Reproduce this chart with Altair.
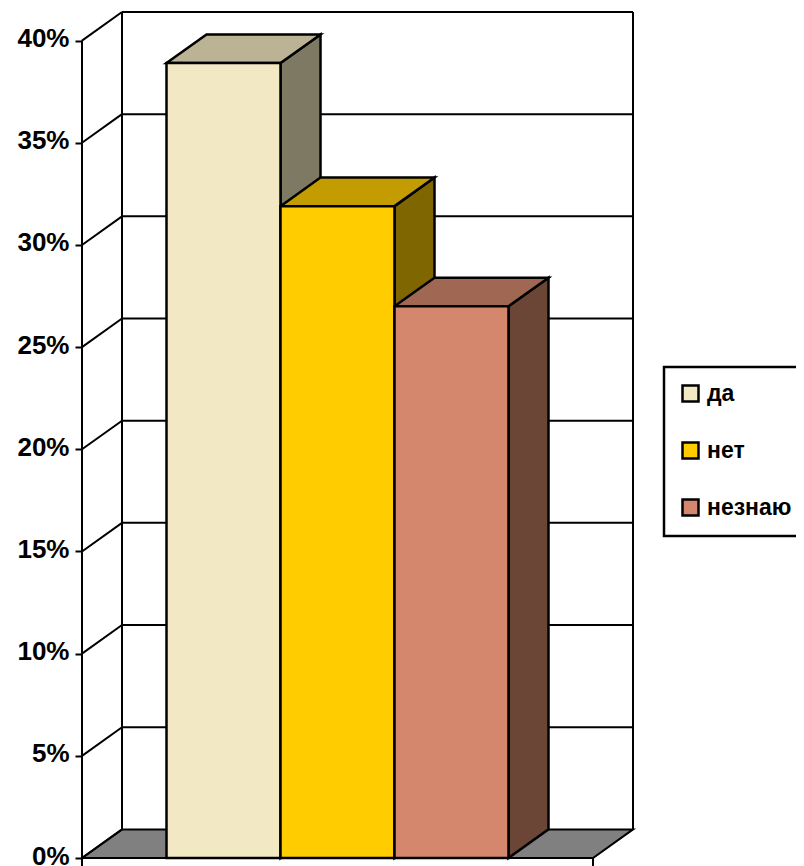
import altair as alt
import pandas as pd

# ---- data ----
categories = ["да", "нет", "незнаю"]
values = [38.9, 31.9, 27.0]           # percent
front_colors = ["#F2E9C4", "#FFCC00", "#D4876C"]
top_colors = ["#BCB394", "#C29C00", "#A06752"]
side_colors = ["#7E7963", "#806600", "#6B4637"]
tick_values = [0, 5, 10, 15, 20, 25, 30, 35, 40]

# ---- layout / style constants ----
W = 551          # plot width (x units == px)
H = 846          # plot height px
DX = 40          # 3D depth along x
DY = 1.4         # 3D depth along y (percent units)
Y_MAX = 40 + DY
FLOOR_W = W - DX
BAR_W = 114
START = (FLOOR_W - len(values) * BAR_W) / 2
FONT = "Liberation Sans"
LW = 2.5

x_scale = alt.Scale(domain=[0, W], nice=False, zero=False)
y_scale = alt.Scale(domain=[0, Y_MAX], nice=False, zero=False)
y_axis = alt.Axis(values=tick_values, labelExpr="datum.value + '%'", domain=False,
                  grid=False, ticks=True, tickSize=7, tickWidth=2, tickColor="black",
                  labelFont=FONT, labelFontSize=26, labelFontWeight="bold",
                  labelColor="black", labelPadding=6, labelOffset=-2, title=None)


def X(f):
    return alt.X(f, type="quantitative", scale=x_scale, axis=None, title=None)


def Y(f):
    return alt.Y(f, type="quantitative", scale=y_scale, axis=y_axis, title=None)


# ---- tables built from the arrays ----
front_rows, top_rows, side_rows = [], [], []
for i, (c, v) in enumerate(zip(categories, values)):
    x0 = START + i * BAR_W
    x1 = x0 + BAR_W
    front_rows.append({"cat": c, "x0": x0, "x1": x1, "lo": 0, "hi": v})
    for x, lo, hi in [(x0, v, v), (x0 + DX, v, v + DY), (x1, v, v + DY), (x1 + DX, v + DY, v + DY)]:
        top_rows.append({"cat": c, "x": x, "lo": lo, "hi": hi, "fill": top_colors[i]})
    for x, lo, hi in [(x1, 0, v), (x1 + DX, DY, v + DY)]:
        side_rows.append({"cat": c, "x": x, "lo": lo, "hi": hi, "fill": side_colors[i]})

fronts = pd.DataFrame(front_rows)
tops = pd.DataFrame(top_rows)
sides = pd.DataFrame(side_rows)

floor = pd.DataFrame({"x": [0, DX, FLOOR_W, W], "lo": [0, 0, 0, DY], "hi": [0, DY, DY, DY]})
grid = pd.DataFrame({"x": DX, "x2": W, "y": [t + DY for t in tick_values[1:]]})
walls = pd.DataFrame({"x": [DX, W], "y": DY, "y2": Y_MAX})
diag = pd.DataFrame({"x": 0, "x2": DX, "y": tick_values, "y2": [t + DY for t in tick_values]})
front_axis = pd.DataFrame({"x": [0], "y": [tick_values[-1]]})
cat_tick = pd.DataFrame({"x": [FLOOR_W], "y": [0]})

floor_l = alt.Chart(floor).mark_area(fill="#808080", stroke="black", strokeWidth=2).encode(
    x=X("x"), y=Y("lo"), y2="hi")
grid_l = alt.Chart(grid).mark_rule(color="black", strokeWidth=2).encode(
    x=X("x"), x2="x2", y=Y("y"))
walls_l = alt.Chart(walls).mark_rule(color="black", strokeWidth=2).encode(
    x=X("x"), y=Y("y"), y2="y2")
diag_l = alt.Chart(diag).mark_rule(color="black", strokeWidth=2).encode(
    x=X("x"), x2="x2", y=Y("y"), y2="y2")
axis_l = alt.Chart(front_axis).mark_rule(color="black", strokeWidth=2).encode(
    x=X("x"), y=Y("y"), y2=alt.value(H + 8))
cat_tick_l = alt.Chart(cat_tick).mark_rule(color="black", strokeWidth=2).encode(
    x=X("x"), y=Y("y"), y2=alt.value(H + 8))

sides_l = alt.Chart(sides).mark_area(stroke="black", strokeWidth=LW, strokeJoin="miter").encode(
    x=X("x"), y=Y("lo"), y2="hi", detail="cat:N",
    fill=alt.Fill("fill:N", scale=None))
tops_l = alt.Chart(tops).mark_area(stroke="black", strokeWidth=LW, strokeJoin="miter").encode(
    x=X("x"), y=Y("lo"), y2="hi", detail="cat:N",
    fill=alt.Fill("fill:N", scale=None))
fronts_l = alt.Chart(fronts).mark_rect(stroke="black", strokeWidth=LW).encode(
    x=X("x0"), x2="x1", y=Y("lo"), y2="hi",
    fill=alt.Fill("cat:N", scale=alt.Scale(domain=categories, range=front_colors),
                  legend=alt.Legend(title=None, orient="none", legendX=582, legendY=355,
                                    fillColor="white", strokeColor="black",
                                    padding=15, rowPadding=30,
                                    symbolType="square", symbolSize=256,
                                    symbolStrokeColor="black", symbolStrokeWidth=2.5,
                                    labelFont=FONT, labelFontSize=23,
                                    labelFontWeight="bold", labelColor="black",
                                    labelOffset=5)))

chart = alt.layer(
    floor_l, grid_l, walls_l, diag_l, axis_l, cat_tick_l, sides_l, tops_l, fronts_l
).properties(
    width=W, height=H,
    autosize=alt.AutoSizeParams(type="none"),
    padding={"left": 74, "top": 4, "right": 163, "bottom": 8},
    background="white",
).configure_view(stroke=None).configure_legend(strokeWidth=2.5)

chart.save("out.html", embed_options={"renderer": "svg", "actions": False})
